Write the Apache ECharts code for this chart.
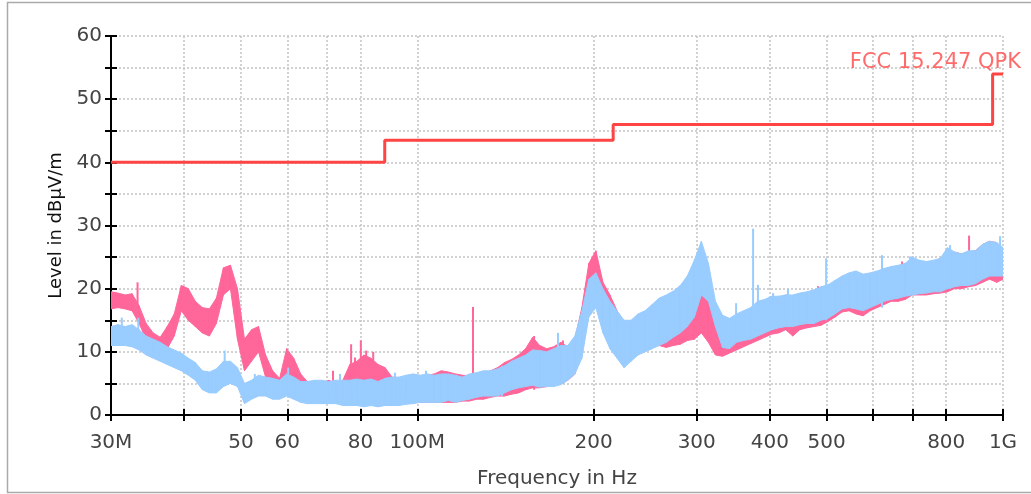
<!DOCTYPE html>
<html>
<head>
<meta charset="utf-8">
<script src="https://cdn.jsdelivr.net/npm/echarts@6/dist/echarts.min.js"></script>
<style>
html,body{margin:0;padding:0;background:#fff;}
#chart{width:1031px;height:494px;}
</style>
</head>
<body>
<div id="chart"></div>
<script>
// ---- data (MHz / dBµV/m) ----
const freqMHz = [30.00, 30.84, 31.70, 32.59, 33.50, 34.44, 35.41, 36.40, 37.42, 38.47,
  39.55, 40.65, 41.79, 42.96, 44.16, 45.40, 46.67, 47.98, 49.32, 50.70,
  52.12, 53.58, 55.08, 56.63, 58.21, 59.84, 61.52, 63.24, 65.01, 66.83,
  68.71, 70.63, 72.61, 74.64, 76.73, 78.88, 81.09, 83.36, 85.70, 88.10,
  90.56, 93.10, 95.71, 98.39, 101.2, 104.0, 106.9, 109.9, 113.0, 116.2,
  119.4, 122.8, 126.2, 129.7, 133.4, 137.1, 140.9, 144.9, 148.9, 153.1,
  157.4, 161.8, 166.3, 171.0, 175.8, 180.7, 185.8, 191.0, 196.3, 201.8,
  207.5, 213.3, 219.3, 225.4, 231.7, 238.2, 244.9, 251.8, 258.8, 266.1,
  273.5, 281.2, 289.1, 297.2, 305.5, 314.1, 322.9, 331.9, 341.2, 350.8,
  360.6, 370.8, 381.2, 391.8, 402.8, 414.1, 425.7, 437.6, 449.9, 462.5,
  475.5, 488.8, 502.5, 516.6, 531.1, 545.9, 561.2, 577.0, 593.1, 609.8,
  626.8, 644.4, 662.5, 681.0, 700.1, 719.7, 739.9, 760.6, 781.9, 803.8,
  826.3, 849.5, 873.3, 897.7, 922.9, 948.7, 975.3, 1000];

const pinkHi = [19.5, 19.3, 19.0, 19.2, 17.3, 14.5, 13.0, 12.3, 14.0, 16.0,
  20.5, 20.0, 18.0, 17.0, 16.8, 18.5, 23.3, 23.7, 20.0, 12.0,
  13.5, 14.0, 9.5, 7.0, 5.8, 10.5, 9.0, 6.5, 5.2, 5.2,
  5.0, 5.5, 5.0, 5.5, 8.0, 8.5, 9.5, 9.0, 8.0, 7.5,
  6.0, 5.8, 5.8, 5.5, 6.0, 6.3, 6.5, 7.0, 6.8, 6.5,
  6.3, 6.2, 6.5, 6.5, 7.0, 7.5, 8.3, 8.8, 9.5, 10.5,
  12.3, 11.0, 10.5, 10.8, 11.5, 10.8, 12.0, 17.0, 24.0, 26.0,
  21.0, 19.0, 16.5, 14.3, 14.0, 15.5, 16.3, 17.0, 15.0, 14.0,
  15.5, 16.8, 17.2, 17.5, 20.0, 18.0, 16.0, 14.5, 15.0, 15.5,
  16.0, 16.8, 17.5, 18.0, 18.5, 18.5, 19.0, 18.8, 19.0, 19.3,
  19.6, 20.2, 20.5, 21.0, 21.8, 22.0, 21.8, 21.5, 22.0, 22.3,
  22.8, 23.0, 23.5, 24.0, 24.3, 24.3, 24.0, 24.3, 24.5, 25.5,
  25.8, 25.5, 25.8, 26.0, 27.0, 27.5, 27.3, 26.0];

const pinkLo = [16.8, 17.0, 16.8, 16.5, 14.5, 12.0, 10.5, 10.0, 10.5, 12.5,
  16.5, 15.0, 14.0, 13.0, 12.5, 14.5, 19.0, 20.0, 12.0, 7.0,
  8.5, 10.0, 6.0, 5.0, 4.5, 5.0, 4.5, 3.5, 3.0, 2.5,
  2.5, 2.5, 2.5, 2.5, 3.0, 3.0, 3.0, 3.0, 3.0, 3.0,
  2.5, 2.5, 2.5, 2.5, 2.0, 2.0, 2.0, 2.0, 2.0, 2.0,
  2.2, 2.2, 2.5, 2.5, 2.8, 3.0, 3.0, 3.3, 3.5, 4.0,
  4.3, 4.3, 4.5, 4.8, 5.0, 5.5, 6.5, 10.0, 16.5, 19.0,
  14.0, 13.0, 11.0, 9.5, 9.5, 10.5, 10.8, 11.0, 11.0, 10.7,
  11.0, 11.2, 11.8, 12.0, 13.0, 11.5, 9.5, 9.3, 9.8, 10.3,
  10.8, 11.3, 11.8, 12.3, 12.8, 13.0, 13.5, 12.5, 13.5, 13.8,
  14.0, 14.2, 14.8, 15.5, 16.3, 16.5, 16.0, 15.7, 16.5, 17.0,
  17.5, 18.0, 18.0, 18.3, 19.0, 19.0, 19.0, 19.2, 19.3, 19.5,
  20.0, 20.0, 20.3, 20.5, 21.0, 21.5, 21.0, 21.5];

const blueHi = [14.0, 14.3, 14.0, 14.3, 13.5, 12.5, 12.0, 11.5, 10.8, 10.3,
  9.8, 9.0, 8.3, 7.0, 6.8, 7.3, 8.5, 8.5, 7.5, 5.0,
  5.5, 6.3, 6.0, 5.8, 5.5, 6.5, 6.0, 5.3, 5.3, 5.5,
  5.5, 5.3, 5.5, 5.5, 5.5, 5.7, 5.5, 5.7, 5.3, 5.8,
  6.0, 6.0, 6.3, 6.5, 6.3, 6.5, 6.3, 6.5, 6.5, 6.3,
  6.0, 6.5, 6.7, 7.0, 7.0, 7.3, 7.8, 8.5, 9.0, 9.5,
  10.3, 10.2, 10.0, 10.5, 11.0, 11.0, 12.5, 16.5, 21.5, 22.5,
  20.0, 18.0, 16.5, 15.0, 15.0, 16.0, 16.5, 17.5, 18.5, 19.0,
  19.6, 20.5, 22.0, 24.5, 27.5, 24.0, 18.0, 15.8, 15.3, 16.0,
  16.5, 17.0, 18.0, 18.3, 18.8, 18.8, 19.0, 19.0, 19.3, 19.5,
  19.8, 20.3, 20.6, 21.3, 22.0, 22.5, 22.8, 22.3, 22.5, 22.8,
  23.2, 23.5, 23.7, 24.0, 25.0, 24.5, 24.3, 24.5, 24.8, 26.5,
  25.8, 25.5, 26.0, 26.0, 27.0, 27.5, 27.3, 26.5];

const blueLo = [11.0, 11.0, 11.0, 10.8, 10.3, 9.5, 9.0, 8.5, 8.0, 7.5,
  7.0, 6.3, 5.5, 4.0, 3.5, 3.5, 4.5, 5.0, 4.5, 1.8,
  2.5, 3.0, 3.0, 2.5, 2.5, 3.0, 2.5, 2.0, 1.8, 1.8,
  1.8, 1.8, 1.8, 1.5, 1.5, 1.5, 1.3, 1.5, 1.3, 1.5,
  1.5, 1.5, 1.7, 1.8, 2.0, 2.0, 2.0, 2.0, 2.3, 2.0,
  2.3, 2.5, 2.8, 3.0, 3.0, 3.0, 3.5, 4.0, 4.3, 4.5,
  4.7, 4.4, 4.5, 4.5, 4.8, 5.5, 6.5, 9.0, 15.5, 17.0,
  13.0, 10.5, 9.0, 7.5, 8.5, 9.5, 10.0, 10.5, 11.0, 11.5,
  12.3, 13.0, 14.0, 15.5, 19.0, 18.0, 14.0, 10.7, 10.5, 11.5,
  11.8, 12.0, 12.5, 13.0, 13.5, 13.8, 14.0, 14.0, 14.3, 14.5,
  14.5, 15.0, 15.3, 16.0, 16.8, 17.0, 16.8, 16.5, 17.0, 17.5,
  18.0, 18.3, 18.5, 18.8, 19.0, 19.2, 19.3, 19.5, 19.5, 20.0,
  20.3, 20.5, 20.5, 20.8, 21.5, 22.0, 22.0, 22.0];

// narrow spikes rising above the bands
const pinkSpikeF    = [33.3, 71.8, 77.1, 78.3, 80.1, 81.8, 84.1, 124.5, 158.3, 177.3, 483.3, 672.4, 875.1];
const pinkSpikeTop  = [21.0, 7.0, 11.2, 9.1, 11.8, 10.2, 10.0, 17.1, 12.5, 11.8, 20.4, 24.3, 28.4];
const pinkSpikeBase = [17.0, 3.0, 3.0, 3.0, 3.0, 3.0, 3.0, 3.0, 4.0, 5.0, 15.0, 19.0, 21.0];

const blueSpikeF    = [31.3, 33.4, 46.9, 52.8, 60.2, 73.8, 91.6, 103.5, 139.6, 173.9, 350.2, 374.4, 381.6, 405.0, 429.5, 477.6, 498.9, 621.5, 693.9, 812.2, 988.6];
const blueSpikeTop  = [15.4, 15.4, 10.2, 6.5, 7.5, 6.5, 6.7, 7.0, 7.8, 13.0, 17.7, 29.5, 20.6, 19.3, 20.0, 19.8, 24.8, 25.3, 25.1, 26.9, 28.3];
const blueSpikeBase = [11.0, 11.0, 5.0, 3.0, 3.0, 2.0, 2.0, 2.0, 3.0, 5.0, 12.0, 13.0, 13.0, 14.0, 14.0, 15.0, 15.0, 17.0, 19.0, 20.0, 22.0];

// limit line (FCC 15.247 QPK)
const limitFreq  = [30, 88, 216, 960, 1000];
const limitLevel = [40, 43.5, 46, 54, 54];

// axis ticks / labels
const xTickValues  = [30, 40, 50, 60, 70, 80, 100, 200, 300, 400, 500, 600, 700, 800, 1000];
const xLabelValues = [30, 50, 60, 80, 100, 200, 300, 400, 500, 800, 1000];
const xLabelText   = {30: '30M', 100: '100M', 1000: '1G'};

// ---- build ----
const PINK = '#ff6699';
const BLUE = '#99ccff';
const FONT = 'DejaVu Sans';

function bandData(lo, hi) {
  const out = [];
  for (let i = 0; i < freqMHz.length - 1; i++) {
    out.push([freqMHz[i], lo[i], hi[i], freqMHz[i + 1], lo[i + 1], hi[i + 1]]);
  }
  return out;
}
function spikeData(f, base, top) {
  return f.map((v, i) => [v, base[i], top[i]]);
}
function bandRenderer(color) {
  return function (params, api) {
    const a = api.coord([api.value(0), api.value(1)]);
    const b = api.coord([api.value(0), api.value(2)]);
    const c = api.coord([api.value(3), api.value(5)]);
    const d = api.coord([api.value(3), api.value(4)]);
    return {type: 'polygon', shape: {points: [a, b, c, d]},
      style: {fill: color, stroke: color, lineWidth: 1}};
  };
}
function spikeRenderer(color) {
  return function (params, api) {
    const a = api.coord([api.value(0), api.value(1)]);
    const b = api.coord([api.value(0), api.value(2)]);
    return {type: 'line', shape: {x1: a[0], y1: a[1], x2: b[0], y2: b[1]},
      style: {stroke: color, lineWidth: 2}};
  };
}

const gridLine = {show: true, lineStyle: {color: '#c4c4c4', width: 1.5, type: [2, 2]}};
const axisBlack = {show: true, lineStyle: {color: '#000', width: 2}};

const chart = echarts.init(document.getElementById('chart'), null, {renderer: 'canvas'});
chart.setOption({
  animation: false,
  backgroundColor: '#fff',
  grid: {left: 111, right: 28, top: 36, bottom: 76, containLabel: false},
  graphic: [
    {type: 'rect', silent: true, z: -10,
      shape: {x: 7.5, y: 2.5, width: 1035, height: 490},
      style: {fill: 'none', stroke: '#aaaaaa', lineWidth: 1.5}},
    {type: 'text', silent: true, z: 100, right: 10, top: 52,
      style: {text: 'FCC 15.247 QPK', fill: '#ff6b6b', font: '21px "DejaVu Sans"'}}
  ],
  xAxis: [{
    type: 'log', logBase: 10, min: 30, max: 1000,
    axisLine: axisBlack,
    axisTick: {show: true, customValues: xTickValues, length: 6, lineStyle: {color: '#000', width: 2}},
    minorTick: {show: false},
    axisLabel: {customValues: xLabelValues, color: '#444', fontSize: 20, fontFamily: FONT, margin: 18,
      formatter: v => xLabelText[v] || String(v)},
    splitLine: gridLine,
    name: 'Frequency in Hz', nameLocation: 'middle', nameGap: 54,
    nameTextStyle: {color: '#444', fontSize: 20, fontFamily: FONT}
  }, {
    type: 'log', logBase: 10, min: 30, max: 1000, position: 'bottom',
    axisLine: {show: false},
    axisTick: {show: true, inside: true, customValues: xTickValues, length: 6, lineStyle: {color: '#000', width: 2}},
    axisLabel: {show: false}, splitLine: {show: false}
  }],
  yAxis: [{
    type: 'value', min: 0, max: 60, interval: 5,
    axisLine: axisBlack,
    axisTick: {show: true, length: 6, lineStyle: {color: '#000', width: 2}},
    axisLabel: {color: '#444', fontSize: 20, fontFamily: FONT, margin: 9,
      formatter: v => (v % 10 === 0 ? String(v) : '')},
    splitLine: gridLine,
    name: 'Level in dBµV/m', nameLocation: 'middle', nameGap: 46,
    nameTextStyle: {color: '#111', fontSize: 18, fontFamily: FONT}
  }, {
    type: 'value', min: 0, max: 60, interval: 5, position: 'left',
    axisLine: {show: false},
    axisTick: {show: true, inside: true, length: 6, lineStyle: {color: '#000', width: 2}},
    axisLabel: {show: false}, splitLine: {show: false}
  }],
  series: [
    {type: 'custom', name: 'pink', renderItem: bandRenderer(PINK), data: bandData(pinkLo, pinkHi),
      encode: {x: [0, 3], y: [1, 2, 4, 5]}, clip: true, z: 2},
    {type: 'custom', name: 'pinkSpikes', renderItem: spikeRenderer(PINK),
      data: spikeData(pinkSpikeF, pinkSpikeBase, pinkSpikeTop), encode: {x: 0, y: [1, 2]}, clip: true, z: 2},
    {type: 'custom', name: 'blue', renderItem: bandRenderer(BLUE), data: bandData(blueLo, blueHi),
      encode: {x: [0, 3], y: [1, 2, 4, 5]}, clip: true, z: 3},
    {type: 'custom', name: 'blueSpikes', renderItem: spikeRenderer(BLUE),
      data: spikeData(blueSpikeF, blueSpikeBase, blueSpikeTop), encode: {x: 0, y: [1, 2]}, clip: true, z: 3},
    {type: 'line', name: 'limit', step: 'end', symbol: 'none', z: 5,
      data: limitFreq.map((f, i) => [f, limitLevel[i]]),
      lineStyle: {color: '#ff4444', width: 3}}
  ]
});
</script>
</body>
</html>
